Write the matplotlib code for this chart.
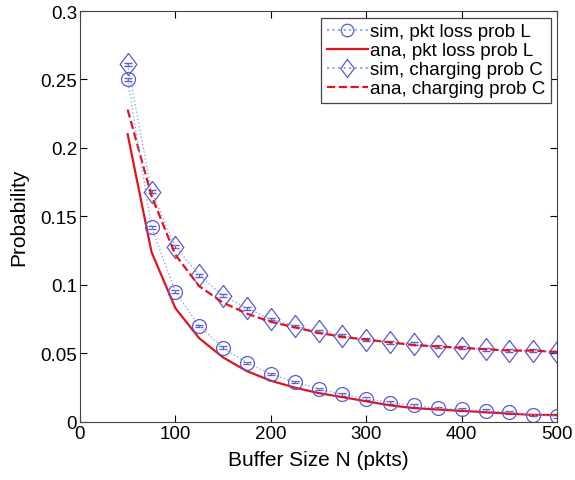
import matplotlib
matplotlib.use('Agg')
import matplotlib.pyplot as plt
from matplotlib.lines import Line2D

plt.rcParams['font.family'] = ['Liberation Sans', 'DejaVu Sans']

# buffer sizes
N = [50, 75, 100, 125, 150, 175, 200, 225, 250, 275, 300, 325, 350, 375, 400, 425, 450, 475, 500]

sim_L = [0.250, 0.142, 0.095, 0.070, 0.054, 0.043, 0.035, 0.029, 0.024, 0.020,
         0.017, 0.014, 0.012, 0.010, 0.009, 0.008, 0.007, 0.005, 0.004]
ana_L = [0.210, 0.124, 0.083, 0.061, 0.047, 0.037, 0.030, 0.025, 0.021, 0.018,
         0.015, 0.012, 0.010, 0.009, 0.008, 0.007, 0.006, 0.005, 0.005]
sim_C = [0.261, 0.168, 0.128, 0.107, 0.092, 0.083, 0.075, 0.070, 0.066, 0.063,
         0.060, 0.058, 0.057, 0.055, 0.054, 0.053, 0.052, 0.052, 0.051]
ana_C = [0.228, 0.165, 0.122, 0.099, 0.087, 0.079, 0.073, 0.069, 0.065, 0.062,
         0.060, 0.058, 0.056, 0.055, 0.054, 0.053, 0.052, 0.052, 0.051]
err = [0.001] * len(N)

blue = '#5a5ad2'
lblue = '#8fa8e6'
red = '#e0141e'
# a diamond that is a bit taller than wide, like the matlab one
diamond = [(0, 1), (0.75, 0), (0, -1), (-0.75, 0), (0, 1)]

fig = plt.figure(figsize=(5.75, 4.81), dpi=100)
ax = fig.add_axes([0.139, 0.121, 0.830, 0.854])

ax.errorbar(N, sim_L, yerr=err, fmt='o', ls=':', color=lblue, mec=blue, mfc='none',
            ms=10, mew=0.9, ecolor=blue, elinewidth=0.8, capsize=3, lw=1)
ax.plot(N, ana_L, '-', color=red, lw=1.6)
ax.errorbar(N, sim_C, yerr=err, fmt='none', ecolor=blue, elinewidth=0.8, capsize=3)
ax.plot(N, sim_C, ls=':', color=lblue, marker=diamond, mec=blue, mfc='none',
        ms=16, mew=0.9, lw=1)
ax.plot(N, ana_C, '--', color=red, lw=1.6)

ax.set_xlim(0, 500)
ax.set_ylim(0, 0.3)
ax.set_xticks([0, 100, 200, 300, 400, 500])
ax.set_yticks([0, 0.05, 0.1, 0.15, 0.2, 0.25, 0.3])
ax.set_yticklabels(['0', '0.05', '0.1', '0.15', '0.2', '0.25', '0.3'])
ax.tick_params(direction='in', top=True, right=True, labelsize=13.5, length=5, pad=2)
for s in ax.spines.values():
    s.set_color('#444444')

ax.set_xlabel('Buffer Size N (pkts)', fontsize=15, labelpad=6)
ax.set_ylabel('Probability', fontsize=15, labelpad=9)

handles = [
    Line2D([], [], ls=':', color=lblue, marker='o', mec=blue, mfc='none', ms=9, mew=0.9),
    Line2D([], [], ls='-', color=red, lw=1.6),
    Line2D([], [], ls=':', color=lblue, marker=diamond, mec=blue, mfc='none', ms=13, mew=0.9),
    Line2D([], [], ls='--', color=red, lw=1.6),
]
labels = ['sim, pkt loss prob L', 'ana, pkt loss prob L',
          'sim, charging prob C', 'ana, charging prob C']
leg = ax.legend(handles, labels, loc='upper right', fontsize=13.5, fancybox=False,
                edgecolor='#444444', framealpha=1, handlelength=2.2,
                borderaxespad=0.35, labelspacing=0.1, handletextpad=0.1,
                borderpad=0.3)
leg.get_frame().set_linewidth(0.9)

fig.savefig('out.png', dpi=100)
